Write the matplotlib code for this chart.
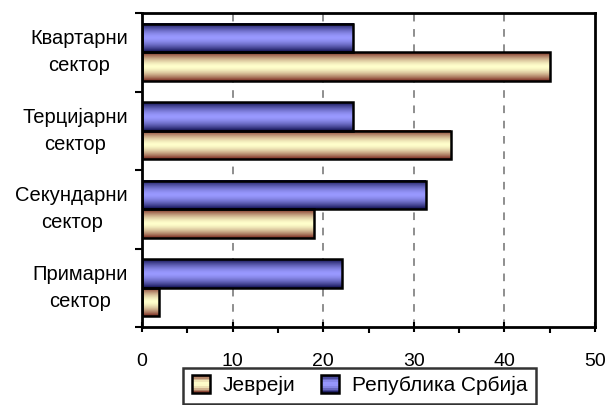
import numpy as np
import matplotlib
matplotlib.use("Agg")
import matplotlib.pyplot as plt
from matplotlib.colors import LinearSegmentedColormap
from matplotlib.patches import Rectangle
from matplotlib.legend_handler import HandlerBase

plt.rcParams['font.family'] = ['Liberation Sans', 'DejaVu Sans']

categories = ["Примарни\nсектор", "Секундарни\nсектор", "Терцијарни\nсектор", "Квартарни\nсектор"]
series_names = ["Јевреји", "Република Србија"]
jevreji = [1.9, 19.0, 34.1, 45.0]
srbija = [22.1, 31.3, 23.3, 23.3]
xticks = [0, 10, 20, 30, 40, 50]

edge_colors = {"Јевреји": "#7a2a20", "Република Србија": "#101050"}
center_colors = {"Јевреји": "#ffffcc", "Република Србија": "#9999ff"}


def make_cmap(name):
    return LinearSegmentedColormap.from_list(name, [edge_colors[name], center_colors[name], edge_colors[name]])


u = np.linspace(0, 1, 64)
prof = 0.5 + 0.5 * np.sign(u - 0.5) * np.abs(2 * u - 1) ** 1.6
grad = prof.reshape(-1, 1)

fig = plt.figure(figsize=(6.08, 4.05), dpi=100)
ax = fig.add_axes([142 / 608, 1 - 327 / 405, 453 / 608, 314 / 405])

y = np.arange(len(categories))
h = 0.36
bars_j = ax.barh(y - h / 2, jevreji, height=h, facecolor='none', edgecolor='black', linewidth=1.8, zorder=3)
bars_s = ax.barh(y + h / 2, srbija, height=h, facecolor='none', edgecolor='black', linewidth=1.8, zorder=3)

for bars, name in [(bars_j, series_names[0]), (bars_s, series_names[1])]:
    cm = make_cmap(name)
    for b in bars:
        x0, y0, w, hh = b.get_x(), b.get_y(), b.get_width(), b.get_height()
        ax.imshow(grad, cmap=cm, vmin=0, vmax=1, extent=[x0, x0 + w, y0, y0 + hh],
                  aspect='auto', origin='lower', interpolation='bilinear', zorder=2)

ax.set_xlim(0, 50)
ax.set_ylim(-0.5, len(categories) - 0.5)
ax.set_xticks(xticks)
ax.set_xticks(np.arange(5, 50, 10), minor=True)
ax.set_yticks(y)
ax.set_yticklabels(categories, multialignment='center', fontsize=14.5, linespacing=1.56, va='center')
ax.set_yticks(np.arange(-0.5, len(categories), 1.0), minor=True)
ax.tick_params(axis='y', which='major', length=0, pad=10)
ax.tick_params(axis='y', which='minor', length=5, width=1.5, direction='out')
ax.tick_params(axis='x', which='major', length=7, width=1.5, direction='inout', pad=15, labelsize=14)
ax.tick_params(axis='x', which='minor', length=4, width=1.5, direction='out')

for xv in xticks[1:-1]:
    ax.axvline(xv, color='#707070', linestyle=(0, (5, 5)), linewidth=1.1, zorder=1)

for s in ax.spines.values():
    s.set_linewidth(2)
    s.set_color('black')


class GradHandler(HandlerBase):
    def __init__(self, name):
        super().__init__()
        self.name = name

    def create_artists(self, legend, orig_handle, xdescent, ydescent, width, height, fontsize, trans):
        cm = make_cmap(self.name)
        side = 13
        x0 = xdescent + (width - side) / 2
        y0 = -ydescent + (height - side) / 2
        arts = []
        n = 10
        for i in range(n):
            c = cm(prof[int((i + 0.5) / n * 63)])
            r = Rectangle((x0, y0 + side * i / n), side, side / n, facecolor=c, edgecolor='none', transform=trans)
            arts.append(r)
        arts.append(Rectangle((x0, y0), side, side, facecolor='none', edgecolor='black', linewidth=1.8, transform=trans))
        return arts


h1 = Rectangle((0, 0), 1, 1)
h2 = Rectangle((0, 0), 1, 1)
leg = fig.legend([h1, h2], series_names, loc='upper center', bbox_to_anchor=(359.5 / 608, 1 - 368 / 405),
                 ncol=2, fontsize=15, frameon=True, fancybox=False, handlelength=0.9, handletextpad=0.6,
                 columnspacing=1.2, borderpad=0.4, borderaxespad=0,
                 handler_map={h1: GradHandler(series_names[0]), h2: GradHandler(series_names[1])})
leg.get_frame().set_edgecolor('black')
leg.get_frame().set_linewidth(1.8)

fig.savefig("out.png", dpi=100)
